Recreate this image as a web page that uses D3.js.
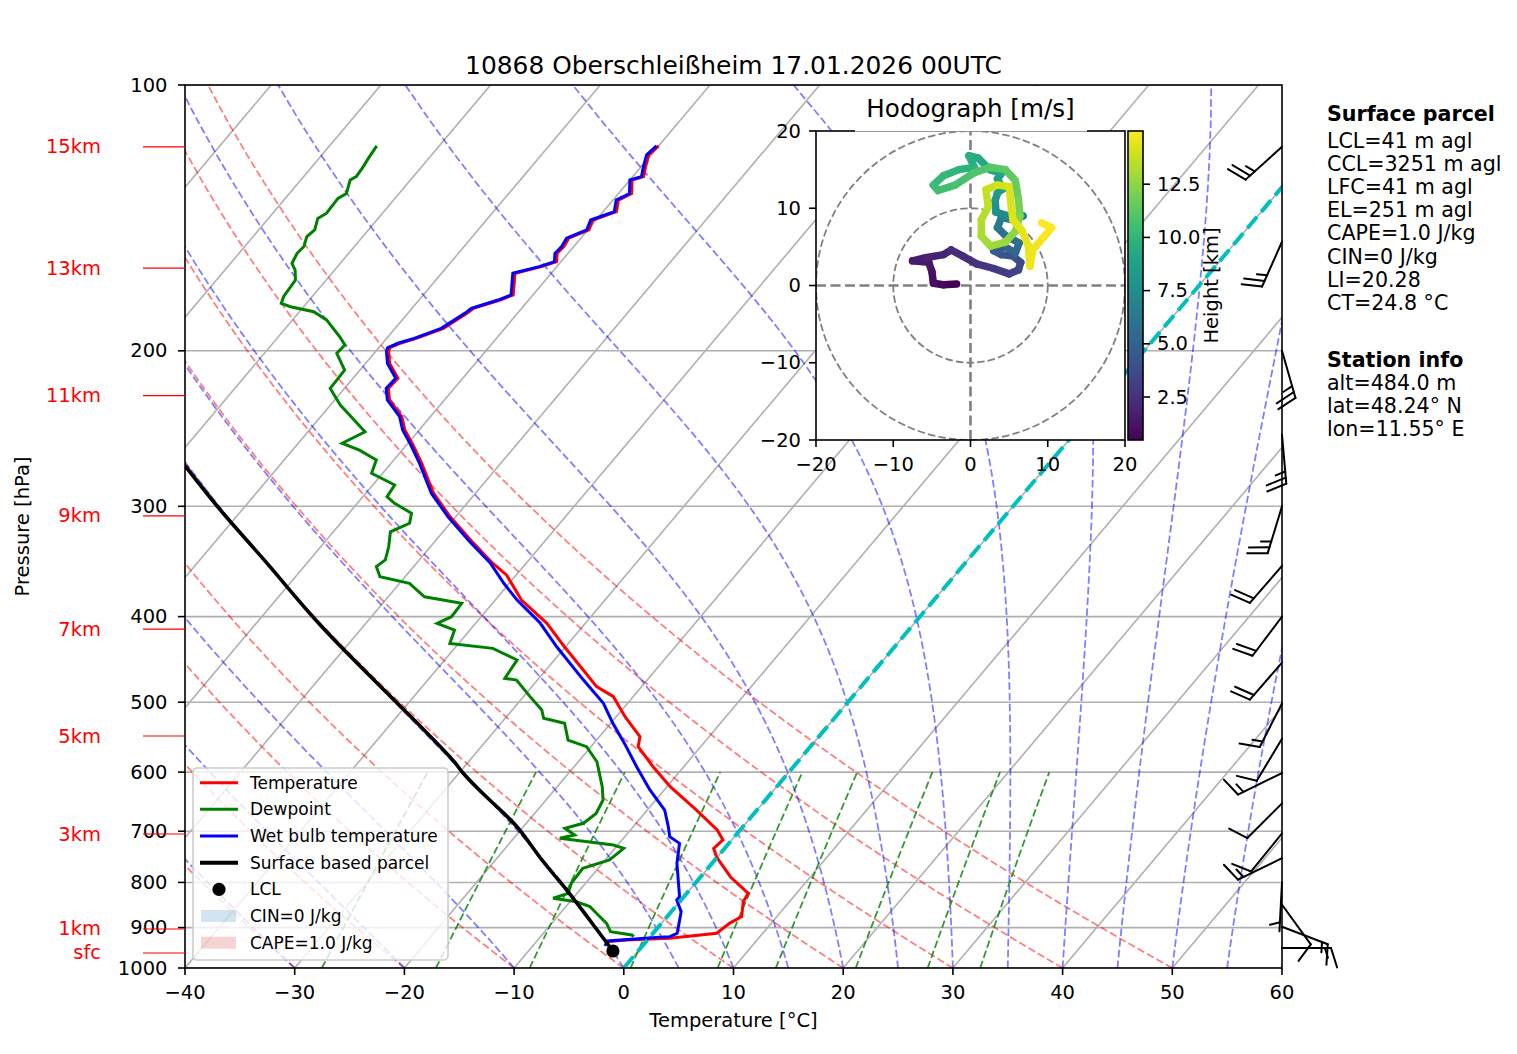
<!DOCTYPE html>
<html>
<head>
<meta charset="utf-8">
<script src="https://cdn.jsdelivr.net/npm/d3@7"></script>
<style>
  body { margin: 0; background: #fff; }
  svg { font-family: "DejaVu Sans", sans-serif; }
</style>
</head>
<body>
<div id="chart"></div>
<script>
// ---- sounding data ----
const tempP = [933.8, 929.6, 925.5, 913.5, 890.1, 874.7, 841.4, 823.1, 788.2, 748.2, 732.0, 716.1, 697.6, 662.6, 623.2, 591.6, 561.5, 547.1, 519.2, 492.8, 480.1, 459.7, 432.7, 407.0, 383.1, 358.8, 347.8, 328.4, 308.3, 290.1, 268.2, 255.7, 245.9, 237.5, 227.4, 220.6, 214.9, 206.7, 200.4, 198.4, 196.1, 193.6, 188.6, 181.4, 179.0, 175.2, 172.9, 163.4, 160.6, 158.5, 155.1, 152.4, 149.1, 145.9, 142.2, 139.1, 135.0, 132.7, 128.1, 127.0, 123.7, 120.0, 117.2];
const tempT = [-3.6, -1.9, 1.9, 5.8, 6.2, 6.8, 5.8, 5.6, 2.7, -0.1, -1.0, -0.8, -2.1, -5.5, -9.7, -12.8, -15.7, -16.3, -19.2, -21.8, -24.1, -26.6, -30.1, -33.5, -37.6, -40.9, -43.1, -46.7, -50.5, -53.8, -57.2, -59.4, -61.3, -62.6, -65.0, -66.0, -65.9, -67.8, -68.8, -69.0, -68.4, -67.3, -65.6, -64.6, -64.4, -62.6, -61.8, -63.3, -61.4, -60.4, -61.0, -60.9, -61.1, -59.9, -60.3, -58.8, -59.5, -58.8, -59.8, -59.0, -59.6, -60.2, -60.0];

const wetP = [944.3, 932.0, 923.2, 921.6, 913.5, 874.7, 863.4, 837.5, 830.3, 761.1, 722.5, 710.1, 691.8, 662.6, 628.6, 591.6, 556.7, 528.3, 501.4, 472.0, 432.7, 407.0, 383.1, 366.7, 347.8, 329.0, 308.3, 290.1, 268.2, 255.7, 245.9, 237.5, 227.4, 220.6, 214.9, 206.7, 200.4, 198.4, 196.1, 193.6, 188.6, 181.4, 179.0, 175.2, 172.9, 163.4, 160.6, 158.5, 155.1, 152.4, 149.1, 145.9, 142.2, 139.1, 135.0, 132.7, 128.1, 127.0, 123.7, 120.0, 117.2];
const wetT = [-3.4, -3.6, 0.9, 1.8, 2.2, 1.2, 0.9, -0.4, -0.4, -3.2, -4.5, -5.9, -6.8, -8.4, -11.3, -14.3, -17.2, -19.8, -22.2, -25.8, -30.8, -34.1, -38.0, -40.5, -43.3, -46.8, -50.7, -54.0, -57.4, -59.6, -61.5, -62.8, -65.2, -66.2, -66.1, -68.0, -69.0, -69.2, -68.6, -67.5, -65.8, -64.8, -64.6, -62.8, -62.0, -63.5, -61.6, -60.6, -61.2, -61.1, -61.3, -60.1, -60.5, -59.0, -59.7, -59.0, -60.0, -59.2, -59.8, -60.4, -60.2];

const dewP = [921.6, 917.6, 909.8, 890.1, 867.0, 852.2, 841.4, 833.8, 823.1, 801.7, 771.1, 754.6, 732.0, 725.7, 713.1, 707.0, 694.7, 685.7, 668.3, 645.3, 623.2, 584.0, 561.5, 551.9, 528.3, 521.4, 510.3, 492.8, 472.0, 469.9, 447.9, 434.5, 428.9, 414.3, 407.0, 400.1, 386.4, 379.8, 366.7, 360.4, 351.1, 345.0, 333.4, 320.6, 313.6, 305.5, 297.7, 292.6, 283.8, 275.3, 265.9, 259.1, 254.5, 247.0, 230.4, 220.6, 210.3, 201.3, 197.0, 192.8, 184.5, 180.6, 178.3, 176.7, 173.7, 166.3, 162.0, 159.2, 155.1, 152.4, 148.5, 145.9, 141.6, 139.7, 134.4, 132.7, 128.1, 127.0, 124.3, 121.1, 117.2];
const dewT = [-1.5, -1.8, -4.0, -5.0, -6.7, -7.8, -9.4, -11.8, -10.8, -11.3, -11.4, -9.6, -9.2, -10.4, -15.8, -14.7, -16.1, -14.8, -14.4, -14.8, -15.9, -18.3, -20.4, -22.6, -24.2, -26.5, -27.3, -29.4, -31.9, -33.1, -33.4, -36.5, -40.8, -41.4, -43.5, -42.7, -42.8, -46.7, -49.1, -52.3, -53.4, -53.1, -53.8, -54.8, -53.7, -54.3, -56.6, -57.8, -58.0, -61.0, -61.6, -63.9, -66.0, -64.8, -69.1, -71.3, -71.4, -73.4, -73.3, -74.4, -76.9, -78.7, -81.2, -82.3, -82.6, -82.8, -83.6, -84.4, -84.7, -84.6, -85.1, -84.9, -85.5, -85.1, -85.2, -84.8, -85.5, -85.2, -85.3, -85.5, -85.7];

const parcelP = [956.6, 882.4, 816.0, 748.7, 691.8, 643.7, 599.8, 576.4, 499.7, 412.4, 351.1, 306.9, 269.4];
const parcelT = [-2.3, -6.8, -11.2, -16.2, -20.6, -25.3, -29.8, -32.1, -41.2, -53.5, -63.1, -71.2, -78.7];
const lclP = 956.6, lclT = -2.3;

// wind barbs (knots, direction wind comes from)
const barbP = [117.5, 150.5, 200, 249, 300, 350.5, 400, 451, 501.5, 550, 601.5, 651, 704, 751, 800, 848, 898, 949];
const barbDir = [228, 204, 164, 175, 197, 221, 217, 221, 207, 211, 244, 225, 219, 244, 183, 144, 111, 90];
const barbSpeed = [25, 25, 25, 25, 25, 20, 20, 20, 15, 10, 15, 10, 10, 15, 5, 10, 15, 15];

// hodograph (m/s) coloured by height (km)
const hodoH = [0.48, 0.7, 0.9, 1.1, 1.3, 1.5, 1.7, 1.9, 2.1, 2.3, 2.5, 2.8, 3.1, 3.4, 3.7, 4.0, 4.3, 4.6, 4.9, 5.2, 5.5, 5.8, 6.1, 6.4, 6.7, 7.0, 7.3, 7.6, 7.9, 8.2, 8.5, 8.7, 8.9, 9.1, 9.3, 9.5, 9.7, 9.9, 10.1, 10.3, 10.5, 10.7, 10.9, 11.1, 11.3, 11.5, 11.8, 12.1, 12.4, 12.7, 12.9, 13.1, 13.3, 13.5, 13.7, 13.9, 14.1, 14.2, 14.3, 14.4, 14.5, 14.6, 14.7, 14.8, 14.9, 15.0];
const hodoU = [-1.8, -3.5, -4.8, -5.0, -5.4, -7.5, -5.8, -3.5, -2.5, -1.0, 0.8, 3.0, 5.0, 6.2, 6.5, 5.5, 4.0, 3.0, 4.5, 5.8, 6.3, 4.5, 3.5, 4.0, 5.5, 6.8, 5.0, 3.3, 3.2, 3.5, 4.2, 3.5, 4.0, 2.5, 1.0, -0.2, 0.5, -1.5, -3.5, -4.8, -4.2, -2.0, 0.5, 2.5, 4.5, 5.8, 6.2, 6.4, 5.8, 4.5, 2.6, 1.4, 1.4, 2.3, 2.0, 3.5, 5.0, 5.3, 5.5, 6.6, 7.5, 7.7, 8.1, 9.6, 10.5, 9.2];
const hodoV = [0.2, 0.1, 0.3, 1.8, 3.0, 3.2, 3.6, 4.0, 4.6, 3.8, 2.8, 2.2, 1.5, 2.0, 3.0, 3.8, 4.0, 4.5, 5.0, 4.2, 5.5, 6.5, 7.5, 8.8, 8.5, 9.0, 9.0, 9.5, 11.0, 12.0, 12.5, 13.8, 14.5, 15.0, 16.5, 16.8, 15.3, 15.0, 14.2, 13.0, 12.3, 13.0, 14.6, 15.3, 15.0, 13.6, 11.2, 9.0, 7.0, 5.6, 5.1, 6.4, 8.5, 10.2, 12.4, 13.0, 12.8, 10.0, 8.5, 7.2, 5.1, 2.5, 4.7, 6.4, 7.5, 8.1];
const hodoTicks = [-20, -10, 0, 10, 20];
const cbarTicks = [2.5, 5.0, 7.5, 10.0, 12.5];

// axes, labels, text
const pressureTicks = [100, 200, 300, 400, 500, 600, 700, 800, 900, 1000];
const tempTicks = [-40, -30, -20, -10, 0, 10, 20, 30, 40, 50, 60];
const heightLabels = ['15km', '13km', '11km', '9km', '7km', '5km', '3km', '1km', 'sfc'];
const heightP = [117.5, 161.2, 224.8, 307.6, 413.3, 546.1, 705.1, 903.3, 961.6];
const dryT0 = [-40, -30, -20, -10, 0, 10, 20, 30, 40, 50];
const moistT0 = [-40, -30, -20, -10, 0, 5, 10, 15, 20, 25, 30, 35, 40, 45, 50, 55, 60];
const mixRatios = [0.0004, 0.001, 0.002, 0.004, 0.007, 0.01, 0.016, 0.024, 0.032];
const legendLabels = ['Temperature', 'Dewpoint', 'Wet bulb temperature', 'Surface based parcel', 'LCL', 'CIN=0 J/kg', 'CAPE=1.0 J/kg'];
const parcelInfo = ['LCL=41 m agl', 'CCL=3251 m agl', 'LFC=41 m agl', 'EL=251 m agl', 'CAPE=1.0 J/kg', 'CIN=0 J/kg', 'LI=20.28', 'CT=24.8 °C'];
const stationInfo = ['alt=484.0 m', 'lat=48.24° N', 'lon=11.55° E'];
const title = '10868 Oberschleißheim 17.01.2026 00UTC';

// ---- layout ----
const W = 1517, H = 1054;
const PLOT = { left: 185, right: 1282, top: 85, bottom: 968 };
const SKEW = 0.843;
const FS = 19.5;

const svg = d3.select('#chart').append('svg')
    .attr('width', W)
    .attr('height', H);

const x = d3.scaleLinear().domain([-40, 60]).range([PLOT.left, PLOT.right]);
const y = d3.scaleLog().domain([1000, 100]).range([PLOT.bottom, PLOT.top]);
const skewX = (t, p) => x(t) + SKEW * (PLOT.bottom - y(p));
const profileLine = d3.line().x(d => skewX(d[1], d[0])).y(d => y(d[0]));
const zip = (ps, ts) => ps.map((p, i) => [p, ts[i]]);
const minus = v => String(v).replace('-', '\u2212');

svg.append('defs').append('clipPath').attr('id', 'plot-clip')
    .append('rect')
    .attr('x', PLOT.left).attr('y', PLOT.top)
    .attr('width', PLOT.right - PLOT.left).attr('height', PLOT.bottom - PLOT.top);

const main = svg.append('g');
const bg = main.append('g').attr('clip-path', 'url(#plot-clip)');

// grid
bg.selectAll('.hgrid').data(pressureTicks).enter().append('line')
    .attr('x1', PLOT.left).attr('x2', PLOT.right)
    .attr('y1', d => y(d)).attr('y2', d => y(d))
    .style('stroke', '#b0b0b0').style('stroke-width', 1.6);

bg.selectAll('.isotherm').data(d3.range(-160, 61, 10)).enter().append('path')
    .attr('d', t => profileLine([[1000, t], [100, t]]))
    .style('fill', 'none').style('stroke', '#b0b0b0').style('stroke-width', 1.6);

// dry adiabats
const pLevels = d3.range(1000, 99, -10);
bg.selectAll('.dry').data(dryT0).enter().append('path')
    .attr('d', t0 => profileLine(pLevels.map(p => [p, (t0 + 273.15) * Math.pow(p / 1000, 0.28571) - 273.15])))
    .style('fill', 'none').style('stroke', '#ff0000').style('stroke-opacity', 0.5)
    .style('stroke-width', 1.8).style('stroke-dasharray', '7.5,3.2');

// moist adiabats (pseudo-adiabatic lapse, RK4 from 1000 hPa)
function moistLapse(t0c, pressures) {
    const Rd = 287.04749, Cp = 1004.6662, Lv = 2.50084e6, eps = 0.6219569;
    const slope = (p, T) => {
        const tc = T - 273.15;
        const es = 6.112 * Math.exp(17.67 * tc / (tc + 243.5));
        const rs = eps * es / (p - es);
        return (Rd * T + Lv * rs) / (Cp + Lv * Lv * rs * eps / (Rd * T * T)) / p;
    };
    let T = t0c + 273.15, p = pressures[0];
    const out = [[p, t0c]];
    for (let i = 1; i < pressures.length; i++) {
        const p1 = pressures[i], h = p1 - p;
        const k1 = slope(p, T);
        const k2 = slope(p + h / 2, T + h / 2 * k1);
        const k3 = slope(p + h / 2, T + h / 2 * k2);
        const k4 = slope(p1, T + h * k3);
        T += h / 6 * (k1 + 2 * k2 + 2 * k3 + k4);
        p = p1;
        out.push([p, T - 273.15]);
    }
    return out;
}
bg.selectAll('.moist').data(moistT0).enter().append('path')
    .attr('d', t0 => profileLine(moistLapse(t0, pLevels)))
    .style('fill', 'none').style('stroke', '#0000ff').style('stroke-opacity', 0.5)
    .style('stroke-width', 1.8).style('stroke-dasharray', '7.5,3.2');

// mixing ratio lines
function dewpointFromW(w, p) {
    const e = p * w / (0.6219569 + w);
    const v = Math.log(e / 6.112);
    return 243.5 * v / (17.67 - v);
}
const mixLevels = d3.range(1000, 599, -10);
bg.selectAll('.mix').data(mixRatios).enter().append('path')
    .attr('d', w => profileLine(mixLevels.map(p => [p, dewpointFromW(w, p)])))
    .style('fill', 'none').style('stroke', '#008000').style('stroke-opacity', 0.8)
    .style('stroke-width', 1.8).style('stroke-dasharray', '7.5,3.2');

// profiles
const prof = main.append('g').attr('clip-path', 'url(#plot-clip)');
prof.append('path').attr('d', profileLine(zip(tempP, tempT)))
    .style('fill', 'none').style('stroke', '#ff0000').style('stroke-width', 3);
prof.append('path').attr('d', profileLine(zip(dewP, dewT)))
    .style('fill', 'none').style('stroke', '#008000').style('stroke-width', 3);
prof.append('path').attr('d', profileLine(zip(wetP, wetT)))
    .style('fill', 'none').style('stroke', '#0000ff').style('stroke-width', 3);
prof.append('path').attr('d', profileLine.curve(d3.curveNatural)(zip(parcelP, parcelT)))
    .style('fill', 'none').style('stroke', '#000').style('stroke-width', 3.6);
profileLine.curve(d3.curveLinear);
prof.append('circle')
    .attr('cx', skewX(lclT, lclP)).attr('cy', y(lclP)).attr('r', 6.6)
    .style('fill', '#000');
prof.append('path').attr('d', profileLine([[1000, 0], [100, 0]]))
    .style('fill', 'none').style('stroke', '#00bfbf').style('stroke-width', 4)
    .style('stroke-dasharray', '15,6.5');

// spines and ticks
main.append('rect')
    .attr('x', PLOT.left).attr('y', PLOT.top)
    .attr('width', PLOT.right - PLOT.left).attr('height', PLOT.bottom - PLOT.top)
    .style('fill', 'none').style('stroke', '#000').style('stroke-width', 1.6);

main.selectAll('.ytick').data(pressureTicks).enter().append('line')
    .attr('x1', PLOT.left - 7).attr('x2', PLOT.left)
    .attr('y1', d => y(d)).attr('y2', d => y(d))
    .style('stroke', '#000').style('stroke-width', 1.6);
main.selectAll('.ylab').data(pressureTicks).enter().append('text')
    .attr('x', PLOT.left - 17.5).attr('y', d => y(d))
    .attr('dominant-baseline', 'central').attr('text-anchor', 'end')
    .style('font-size', FS + 'px').text(d => d);

main.selectAll('.xtick').data(tempTicks).enter().append('line')
    .attr('x1', d => x(d)).attr('x2', d => x(d))
    .attr('y1', PLOT.bottom).attr('y2', PLOT.bottom + 7)
    .style('stroke', '#000').style('stroke-width', 1.6);
main.selectAll('.xlab').data(tempTicks).enter().append('text')
    .attr('x', d => x(d)).attr('y', PLOT.bottom + 24)
    .attr('dominant-baseline', 'central').attr('text-anchor', 'middle')
    .style('font-size', FS + 'px').text(d => minus(d));

main.append('text')
    .attr('x', (PLOT.left + PLOT.right) / 2).attr('y', 1020)
    .attr('dominant-baseline', 'central').attr('text-anchor', 'middle')
    .style('font-size', FS + 'px').text('Temperature [°C]');
main.append('text')
    .attr('transform', `translate(22,${(PLOT.top + PLOT.bottom) / 2}) rotate(-90)`)
    .attr('dominant-baseline', 'central').attr('text-anchor', 'middle')
    .style('font-size', FS + 'px').text('Pressure [hPa]');
svg.append('text')
    .attr('x', (PLOT.left + PLOT.right) / 2).attr('y', 65)
    .attr('dominant-baseline', 'central').attr('text-anchor', 'middle')
    .style('font-size', '24.9px').text(title);

// height markers
main.selectAll('.hline').data(heightP).enter().append('line')
    .attr('x1', 143).attr('x2', PLOT.left)
    .attr('y1', d => y(d)).attr('y2', d => y(d))
    .style('stroke', '#ff0000').style('stroke-width', 1.2);
main.selectAll('.hlab').data(heightLabels).enter().append('text')
    .attr('x', 101).attr('y', (d, i) => y(heightP[i]))
    .attr('dominant-baseline', 'central').attr('text-anchor', 'end')
    .style('font-size', FS + 'px').style('fill', '#ff0000').text(d => d);

// wind barbs
function barbSegments(ax, ay, dirDeg, speed) {
    const L = 49, a = dirDeg * Math.PI / 180;
    const d = [Math.sin(a), -Math.cos(a)];
    const n = [-d[1], d[0]];
    const pt = (s, h) => [ax + d[0] * s + n[0] * h, ay + d[1] * s + n[1] * h];
    const segs = [[pt(0, 0), pt(L, 0)]];
    const sp = 0.125 * L, fh = 0.4 * L, fw = 0.25 * L;
    let rest = Math.round(speed / 5) * 5;
    const full = Math.floor(rest / 10);
    rest -= full * 10;
    let off = L;
    for (let i = 0; i < full; i++) {
        segs.push([pt(off, 0), pt(off + fw / 2, fh)]);
        off -= sp;
    }
    if (rest >= 5) {
        if (off === L) off -= 1.5 * sp;
        segs.push([pt(off, 0), pt(off + fw / 4, fh / 2)]);
    }
    return segs;
}
const barbs = main.append('g');
barbP.forEach((p, i) => {
    barbSegments(PLOT.right, y(p), barbDir[i], barbSpeed[i]).forEach(s => {
        barbs.append('line')
            .attr('x1', s[0][0]).attr('y1', s[0][1])
            .attr('x2', s[1][0]).attr('y2', s[1][1])
            .style('stroke', '#000').style('stroke-width', 2)
            .style('stroke-linecap', 'round');
    });
});

// legend
const leg = main.append('g').attr('transform', 'translate(193,768)');
leg.append('rect').attr('width', 255).attr('height', 192).attr('rx', 4)
    .style('fill', '#fff').style('fill-opacity', 0.8)
    .style('stroke', '#cccccc').style('stroke-width', 1.6);
const legStyle = [
    { kind: 'line', color: '#ff0000', w: 3 },
    { kind: 'line', color: '#008000', w: 3 },
    { kind: 'line', color: '#0000ff', w: 3 },
    { kind: 'line', color: '#000', w: 4 },
    { kind: 'dot', color: '#000' },
    { kind: 'patch', color: '#1f77b4' },
    { kind: 'patch', color: '#d62728' }
];
legendLabels.forEach((label, i) => {
    const cy = 14.7 + i * 26.67, s = legStyle[i];
    if (s.kind === 'line') {
        leg.append('line').attr('x1', 7).attr('x2', 45).attr('y1', cy).attr('y2', cy)
            .style('stroke', s.color).style('stroke-width', s.w);
    } else if (s.kind === 'dot') {
        leg.append('circle').attr('cx', 26).attr('cy', cy).attr('r', 6.6).style('fill', s.color);
    } else {
        leg.append('rect').attr('x', 8).attr('y', cy - 6).attr('width', 35).attr('height', 12)
            .style('fill', s.color).style('fill-opacity', 0.2);
    }
    leg.append('text').attr('x', 57).attr('y', cy)
        .attr('dominant-baseline', 'central')
        .style('font-size', '17px').text(label);
});

// right-hand text
const info = svg.append('g').attr('transform', 'translate(1327,0)');
info.append('text').attr('y', 114).attr('dominant-baseline', 'central')
    .style('font-size', '20.6px').style('font-weight', 'bold').text('Surface parcel');
parcelInfo.forEach((t, i) => {
    info.append('text').attr('y', 141 + i * 23.1).attr('dominant-baseline', 'central')
        .style('font-size', '20.6px').text(t);
});
info.append('text').attr('y', 360).attr('dominant-baseline', 'central')
    .style('font-size', '20.6px').style('font-weight', 'bold').text('Station info');
stationInfo.forEach((t, i) => {
    info.append('text').attr('y', 383 + i * 23.1).attr('dominant-baseline', 'central')
        .style('font-size', '20.6px').text(t);
});

// ---- hodograph inset ----
const HB = { left: 816, right: 1125, top: 131, bottom: 440 };
const hu = d3.scaleLinear().domain([-20, 20]).range([HB.left, HB.right]);
const hv = d3.scaleLinear().domain([-20, 20]).range([HB.bottom, HB.top]);
const heightColor = d3.scaleSequential(d3.interpolateViridis).domain([0.48, 15]);

const hodo = svg.append('g');
svg.select('defs').append('clipPath').attr('id', 'hodo-clip')
    .append('rect').attr('x', HB.left).attr('y', HB.top)
    .attr('width', HB.right - HB.left).attr('height', HB.bottom - HB.top);
hodo.append('rect')
    .attr('x', HB.left).attr('y', HB.top)
    .attr('width', HB.right - HB.left).attr('height', HB.bottom - HB.top)
    .style('fill', '#fff');
const hin = hodo.append('g').attr('clip-path', 'url(#hodo-clip)');
[10, 20].forEach(r => {
    hin.append('circle')
        .attr('cx', hu(0)).attr('cy', hv(0)).attr('r', hu(r) - hu(0))
        .style('fill', 'none').style('stroke', '#808080')
        .style('stroke-width', 1.8).style('stroke-dasharray', '7.5,3.2');
});
hin.append('line').attr('x1', hu(-20)).attr('x2', hu(20)).attr('y1', hv(0)).attr('y2', hv(0))
    .style('stroke', '#808080').style('stroke-width', 2.6).style('stroke-dasharray', '10,4.5');
hin.append('line').attr('x1', hu(0)).attr('x2', hu(0)).attr('y1', hv(-20)).attr('y2', hv(20))
    .style('stroke', '#808080').style('stroke-width', 2.6).style('stroke-dasharray', '10,4.5');

d3.pairs(d3.range(hodoH.length)).forEach(([a, b]) => {
    hin.append('line')
        .attr('x1', hu(hodoU[a])).attr('y1', hv(hodoV[a]))
        .attr('x2', hu(hodoU[b])).attr('y2', hv(hodoV[b]))
        .style('stroke', heightColor((hodoH[a] + hodoH[b]) / 2))
        .style('stroke-width', 7.5).style('stroke-linecap', 'round');
});

hodo.append('rect')
    .attr('x', HB.left).attr('y', HB.top)
    .attr('width', HB.right - HB.left).attr('height', HB.bottom - HB.top)
    .style('fill', 'none').style('stroke', '#000').style('stroke-width', 1.6);
hodo.selectAll('.hxt').data(hodoTicks).enter().append('line')
    .attr('x1', d => hu(d)).attr('x2', d => hu(d))
    .attr('y1', HB.bottom).attr('y2', HB.bottom + 7)
    .style('stroke', '#000').style('stroke-width', 1.6);
hodo.selectAll('.hxl').data(hodoTicks).enter().append('text')
    .attr('x', d => hu(d)).attr('y', HB.bottom + 24)
    .attr('dominant-baseline', 'central').attr('text-anchor', 'middle')
    .style('font-size', FS + 'px').text(d => minus(d));
hodo.selectAll('.hyt').data(hodoTicks).enter().append('line')
    .attr('x1', HB.left - 7).attr('x2', HB.left)
    .attr('y1', d => hv(d)).attr('y2', d => hv(d))
    .style('stroke', '#000').style('stroke-width', 1.6);
hodo.selectAll('.hyl').data(hodoTicks).enter().append('text')
    .attr('x', HB.left - 15).attr('y', d => hv(d))
    .attr('dominant-baseline', 'central').attr('text-anchor', 'end')
    .style('font-size', FS + 'px').text(d => minus(d));

// hodograph title with white box
hodo.append('rect').attr('x', 855).attr('y', PLOT.top + 1).attr('width', 232).attr('height', HB.top - PLOT.top - 0.5)
    .style('fill', '#fff');
hodo.append('text')
    .attr('x', (HB.left + HB.right) / 2).attr('y', 108)
    .attr('dominant-baseline', 'central').attr('text-anchor', 'middle')
    .style('font-size', '24.6px').text('Hodograph [m/s]');

// colorbar
const CB = { left: 1128, right: 1143 };
const grad = svg.select('defs').append('linearGradient').attr('id', 'viridis')
    .attr('x1', 0).attr('y1', 1).attr('x2', 0).attr('y2', 0);
d3.range(0, 1.001, 0.05).forEach(t => {
    grad.append('stop').attr('offset', t).attr('stop-color', d3.interpolateViridis(t));
});
const cbY = d3.scaleLinear().domain([0.48, 15]).range([HB.bottom, HB.top]);
hodo.append('rect')
    .attr('x', CB.left).attr('y', HB.top)
    .attr('width', CB.right - CB.left).attr('height', HB.bottom - HB.top)
    .style('fill', 'url(#viridis)').style('stroke', '#000').style('stroke-width', 1.6);
hodo.selectAll('.cbt').data(cbarTicks).enter().append('line')
    .attr('x1', CB.right).attr('x2', CB.right + 7)
    .attr('y1', d => cbY(d)).attr('y2', d => cbY(d))
    .style('stroke', '#000').style('stroke-width', 1.6);
hodo.selectAll('.cbl').data(cbarTicks).enter().append('text')
    .attr('x', CB.right + 14).attr('y', d => cbY(d))
    .attr('dominant-baseline', 'central')
    .style('font-size', FS + 'px').text(d => d.toFixed(1));
hodo.append('text')
    .attr('transform', `translate(1211,${(HB.top + HB.bottom) / 2}) rotate(-90)`)
    .attr('dominant-baseline', 'central').attr('text-anchor', 'middle')
    .style('font-size', FS + 'px').text('Height [km]');
</script>
</body>
</html>
